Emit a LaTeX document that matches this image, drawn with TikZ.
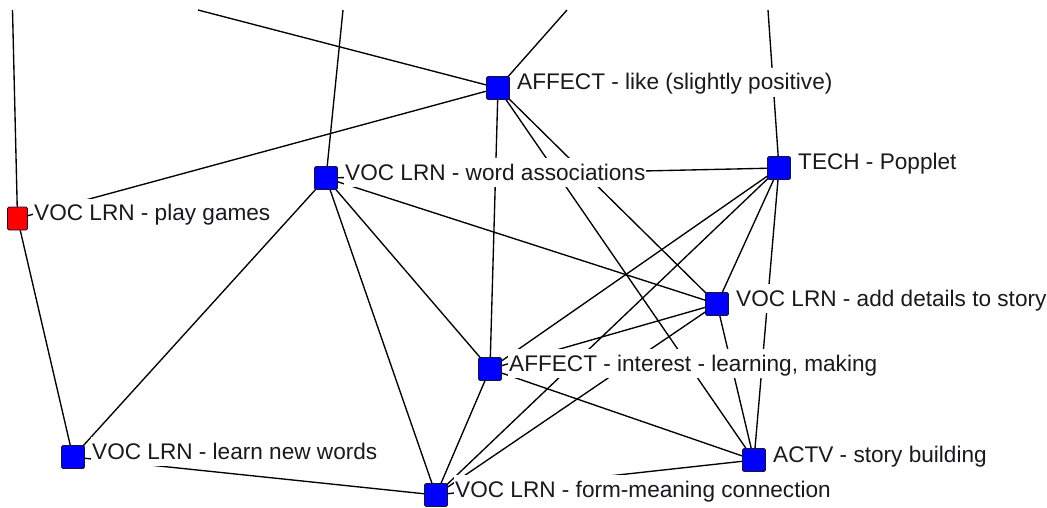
\documentclass[tikz,border=0pt]{standalone}
\usepackage{fontspec}
\setmainfont{Liberation Sans}
\definecolor{codeblue}{RGB}{0,0,255}
\definecolor{codered}{RGB}{255,0,0}
\definecolor{codeline}{RGB}{20,20,60}
\definecolor{tagtext}{RGB}{25,25,30}
\pgfdeclarelayer{background}
\pgfsetlayers{background,main}
\begin{document}
\begin{tikzpicture}[x=1pt,y=-1pt,
  code/.style={draw=codeline, line width=0.8pt, rounded corners=1.5pt,
    minimum width=23pt, minimum height=23pt, inner sep=0pt, fill=codeblue},
  redcode/.style={code, fill=codered, minimum width=20pt},
  tag/.style={anchor=base west, fill=white, inner xsep=1pt, inner ysep=2pt,
    text height=20pt, text depth=5pt, text=tagtext,
    font=\fontsize{22.6}{26}\selectfont},
  link/.style={line width=1.35pt, black}]
\useasboundingbox (0,0) rectangle (1047,508);

% code squares
\node[redcode] (games) at (17.5,218.5) {};
\node[code] (assoc) at (326,178) {};
\node[code] (like) at (498,88) {};
\node[code] (popplet) at (779,168) {};
\node[code] (details) at (717,304) {};
\node[code] (interest) at (490,369) {};
\node[code] (newwords) at (73,457) {};
\node[code] (formmeaning) at (436,495) {};
\node[code] (story) at (754,460) {};

% loose ends of links leaving the top edge
\coordinate (up1) at (12.5,10);
\coordinate (up2) at (198,10);
\coordinate (up3) at (343,10);
\coordinate (up4) at (567,10);
\coordinate (up5) at (768,10);

% code labels
\node[tag] (gamesl) at (33,220.5) {VOC LRN - play games};
\node[tag] (assocl) at (344,180) {VOC LRN - word associations};
\node[tag] (likel) at (516,90) {AFFECT - like (slightly positive)};
\node[tag] (poppletl) at (797,170) {TECH - Popplet};
\node[tag] (detailsl) at (735,306) {VOC LRN - add details to story};
\node[tag] (interestl) at (508,371) {AFFECT - interest - learning, making};
\node[tag] (newwordsl) at (91,459) {VOC LRN - learn new words};
\node[tag] (formmeaningl) at (454,497) {VOC LRN - form-meaning connection};
\node[tag] (storyl) at (772,462) {ACTV - story building};

\begin{pgfonlayer}{background}
\fill[white] (0,0) rectangle (1047,508);
\draw[link] (up1) -- (games.center);
\draw[link] (up2) -- (like.center);
\draw[link] (up3) -- (assoc.center);
\draw[link] (up4) -- (like.center);
\draw[link] (up5) -- (popplet.center);
\draw[link] (games.center) -- (like.center);
\draw[link] (games.center) -- (newwords.center);
\draw[link] (assoc.center) -- (newwords.center);
\draw[link] (assoc.center) -- (formmeaning.center);
\draw[link] (assoc.center) -- (interest.center);
\draw[link] (assoc.center) -- (details.center);
\draw[link] (assoc.center) -- (popplet.center);
\draw[link] (like.center) -- (interest.center);
\draw[link] (like.center) -- (details.center);
\draw[link] (like.center) -- (story.center);
\draw[link] (popplet.center) -- (interest.center);
\draw[link] (popplet.center) -- (formmeaning.center);
\draw[link] (popplet.center) -- (details.center);
\draw[link] (popplet.center) -- (story.center);
\draw[link] (details.center) -- (interest.center);
\draw[link] (details.center) -- (formmeaning.center);
\draw[link] (details.center) -- (story.center);
\draw[link] (interest.center) -- (story.center);
\draw[link] (interest.center) -- (formmeaning.center);
\draw[link] (formmeaning.center) -- (newwords.center);
\draw[link] (formmeaning.center) -- (story.center);
\end{pgfonlayer}
\end{tikzpicture}
\end{document}
